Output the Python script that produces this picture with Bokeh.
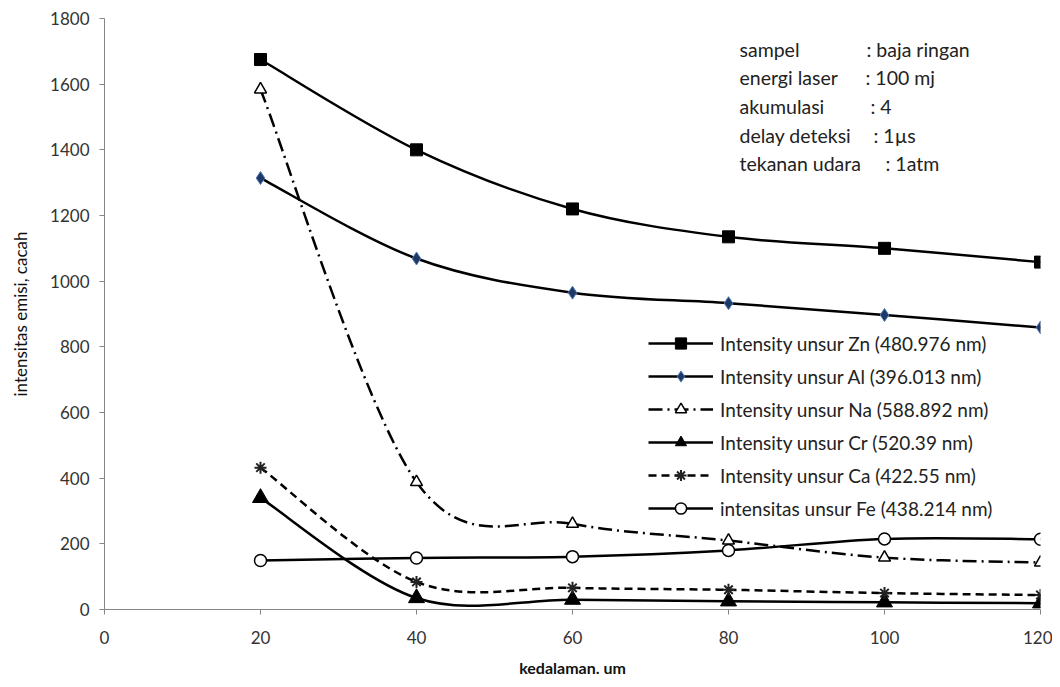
from bokeh.plotting import figure
from bokeh.models import Range1d, Legend, LegendItem, Label, ColumnDataSource, FixedTicker
from bokeh.embed import file_html
from bokeh.resources import INLINE

# ---------------- data ----------------
depth = [20, 40, 60, 80, 100, 120]
zn = [1675, 1400, 1220, 1135, 1100, 1058]
al = [1314, 1069, 965, 933, 897, 859]
na = [1584, 388, 261, 210, 158, 143]
cr = [340, 35, 30, 25, 22, 19]
ca = [432, 84, 66, 60, 50, 44]
fe = [149, 157, 161, 180, 215, 214]

series_labels = [
    "Intensity unsur Zn (480.976 nm)",
    "Intensity unsur Al (396.013 nm)",
    "Intensity unsur Na (588.892 nm)",
    "Intensity unsur Cr (520.39 nm)",
    "Intensity unsur Ca (422.55 nm)",
    "intensitas unsur Fe (438.214 nm)",
]
x_ticks = [0, 20, 40, 60, 80, 100, 120]
y_ticks = [0, 200, 400, 600, 800, 1000, 1200, 1400, 1600, 1800]
info_keys = ["sampel", "energi laser", "akumulasi", "delay deteksi", "tekanan udara"]
info_vals = [": baja ringan", ": 100 mj", ": 4", ": 1\u00b5s", ": 1atm"]

FONT = "Lato"

p = figure(width=1052, height=687, output_backend="svg", toolbar_location=None,
           x_range=Range1d(0, 120), y_range=Range1d(0, 1800),
           min_border_left=104, min_border_right=12, min_border_top=18, min_border_bottom=78)
p.outline_line_color = None
p.xgrid.visible = False
p.ygrid.visible = False
p.background_fill_color = "white"

for ax in (p.xaxis[0], p.yaxis[0]):
    ax.axis_line_color = "#868686"
    ax.major_tick_line_color = "#868686"
    ax.minor_tick_line_color = None
    ax.major_tick_in = 0
    ax.major_tick_out = 5
    ax.major_label_text_font = FONT
    ax.major_label_text_font_size = "17px"
    ax.major_label_text_color = "#333333"
    ax.axis_label_text_font = FONT
    ax.axis_label_text_color = "#111111"

p.xaxis.ticker = FixedTicker(ticks=x_ticks)
p.yaxis.ticker = FixedTicker(ticks=y_ticks)
p.xaxis.axis_label = "kedalaman. um"
p.xaxis.axis_label_text_font_style = "bold"
p.xaxis.axis_label_text_font_size = "16px"
p.xaxis.major_label_standoff = 16
p.xaxis.axis_label_standoff = 11
p.yaxis.axis_label = "intensitas emisi, cacah"
p.yaxis.axis_label_text_font_style = "normal"
p.yaxis.axis_label_text_font_size = "17px"
p.yaxis.major_label_standoff = 10
p.yaxis.axis_label_standoff = 16


def smooth_source(xs, ys):
    n = len(xs)
    d = dict(x0=[], y0=[], x1=[], y1=[], cx0=[], cy0=[], cx1=[], cy1=[])
    for i in range(n - 1):
        a = max(i - 1, 0)
        b = min(i + 2, n - 1)
        d["x0"].append(xs[i]); d["y0"].append(ys[i])
        d["x1"].append(xs[i + 1]); d["y1"].append(ys[i + 1])
        d["cx0"].append(xs[i] + (xs[i + 1] - xs[a]) / 6)
        d["cy0"].append(ys[i] + (ys[i + 1] - ys[a]) / 6)
        d["cx1"].append(xs[i + 1] - (xs[b] - xs[i]) / 6)
        d["cy1"].append(ys[i + 1] - (ys[b] - ys[i]) / 6)
    return ColumnDataSource(d)


styles = [
    dict(values=zn, dash="solid", marker="square", size=12, fill="black", line="black", mlw=1),
    dict(values=al, dash="solid", marker="diamond", size=13, fill="#1F3864", line="#4F7DBA", mlw=1),
    dict(values=na, dash="14 5 2 5", marker="triangle", size=12, fill="white", line="black", mlw=1.5),
    dict(values=cr, dash="solid", marker="triangle", size=16, fill="black", line="black", mlw=1),
    dict(values=ca, dash="8 5", marker="asterisk", size=12, fill="black", line="#222222", mlw=2),
    dict(values=fe, dash="solid", marker="circle", size=12, fill="white", line="black", mlw=1.5),
]

items = []
for st, lab in zip(styles, series_labels):
    src = smooth_source(depth, st["values"])
    r_line = p.bezier(x0="x0", y0="y0", x1="x1", y1="y1", cx0="cx0", cy0="cy0",
                      cx1="cx1", cy1="cy1", source=src, line_color="black",
                      line_width=2.5, line_dash=st["dash"])
    r_mark = p.scatter(depth, st["values"], marker=st["marker"], size=st["size"],
                       fill_color=st["fill"], line_color=st["line"], line_width=st["mlw"])
    items.append(LegendItem(label=lab, renderers=[r_line, r_mark]))

legend = Legend(items=items, location=(544, 87))
legend.border_line_color = None
legend.background_fill_alpha = 0
legend.padding = 0
legend.margin = 0
legend.spacing = 5
legend.glyph_width = 65
legend.glyph_height = 28
legend.label_height = 20
legend.label_standoff = 7
legend.label_text_font = FONT
legend.label_text_font_size = "19px"
legend.label_text_color = "#222222"
p.add_layout(legend)

# info block (screen units relative to plot frame)
key_x = 635
val_x = [762, 761, 766, 769, 781]
row_y = [560, 532, 503, 474, 446]
for k, v, vx, yy in zip(info_keys, info_vals, val_x, row_y):
    p.add_layout(Label(x=key_x, y=yy, x_units="screen", y_units="screen", text=k,
                       text_font=FONT, text_font_size="19.5px", text_baseline="middle",
                       text_color="#222222"))
    p.add_layout(Label(x=vx, y=yy, x_units="screen", y_units="screen", text=v,
                       text_font=FONT, text_font_size="19.5px", text_baseline="middle",
                       text_color="#222222"))

open("out.html", "w").write(file_html(p, INLINE))
